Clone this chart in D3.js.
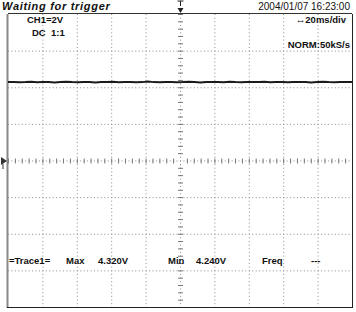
<!DOCTYPE html>
<html>
<head>
<meta charset="utf-8">
<script src="https://cdn.jsdelivr.net/npm/d3@7"></script>
<style>
  body { margin: 0; background: #fff; }
  svg { display: block; }
  text { font-family: "Liberation Sans", Arial, sans-serif; fill: #111; }
</style>
</head>
<body>
<svg id="scope"></svg>
<script>
// scope settings
const voltsPerDiv = 2;
const msPerDiv = 20;
const xDivs = [-5, -4, -3, -2, -1, 0, 1, 2, 3, 4, 5];
const yDivs = [-4, -3, -2, -1, 0, 1, 2, 3, 4];

// trace readings (V), left to right across the 200 ms window
const traceVolts = [
  4.28, 4.29, 4.27, 4.28, 4.30, 4.27, 4.28, 4.29, 4.26, 4.28,
  4.30, 4.28, 4.27, 4.29, 4.28, 4.26, 4.29, 4.28, 4.30, 4.27,
  4.28, 4.29, 4.27, 4.28, 4.31, 4.28, 4.27, 4.28, 4.29, 4.27,
  4.28, 4.30, 4.28, 4.26, 4.28, 4.29, 4.28, 4.27, 4.30, 4.28,
  4.27, 4.29, 4.28, 4.28, 4.30, 4.27, 4.28, 4.29, 4.27, 4.28,
  4.29, 4.28, 4.26, 4.28, 4.30, 4.28, 4.27, 4.29, 4.28, 4.28
];

// header / readout texts
const title = "Waiting for trigger";
const stamp = "2004/01/07  16:23:00";
const chLabel = "CH1=2V";
const coupling = "DC  1:1";
const timebase = "\u219420ms/div";
const sampling = "NORM:50kS/s";
const readout = ["=Trace1=", "Max", "4.320V", "Min", "4.240V", "Freq", "---"];

const W = 356, H = 312;
const margin = {top: 14, right: 4, bottom: 5, left: 8};

const svg = d3.select('#scope')
    .attr('width', W)
    .attr('height', H);

const x = d3.scaleLinear()
    .domain([-5 * msPerDiv, 5 * msPerDiv])
    .range([margin.left, W - margin.right]);

const y = d3.scaleLinear()
    .domain([-4 * voltsPerDiv, 4 * voltsPerDiv])
    .range([H - margin.bottom, margin.top]);

const grid = svg.append('g');

// dotted vertical division lines
grid.selectAll('.vline')
    .data(xDivs.filter(d => Math.abs(d) < 5))
  .join('line')
    .attr('x1', d => x(d * msPerDiv) + 0.5)
    .attr('x2', d => x(d * msPerDiv) + 0.5)
    .attr('y1', y.range()[1])
    .attr('y2', y.range()[0])
    .attr('stroke', '#8a8a8a')
    .attr('stroke-dasharray', '1,2.66');

// dotted horizontal division lines
grid.selectAll('.hline')
    .data(yDivs.filter(d => Math.abs(d) < 4))
  .join('line')
    .attr('x1', x.range()[0])
    .attr('x2', x.range()[1])
    .attr('y1', d => y(d * voltsPerDiv) + 0.5)
    .attr('y2', d => y(d * voltsPerDiv) + 0.5)
    .attr('stroke', '#8a8a8a')
    .attr('stroke-dasharray', '1,2.44');

// minor ticks on the centre axes (5 per division)
const xMinor = d3.range(-25, 26).map(i => i * msPerDiv / 5);
const yMinor = d3.range(-20, 21).map(i => i * voltsPerDiv / 5);

grid.selectAll('.xtick')
    .data(xMinor.filter(d => d !== 0))
  .join('line')
    .attr('x1', d => x(d) + 0.5)
    .attr('x2', d => x(d) + 0.5)
    .attr('y1', y(0) - 2)
    .attr('y2', y(0) + 3)
    .attr('stroke', '#777');

grid.selectAll('.ytick')
    .data(yMinor.filter(d => d !== 0))
  .join('line')
    .attr('x1', x(0) - 2)
    .attr('x2', x(0) + 3)
    .attr('y1', d => y(d) + 0.5)
    .attr('y2', d => y(d) + 0.5)
    .attr('stroke', '#777');

// frame
svg.append('line')
    .attr('x1', margin.left - 0.5).attr('x2', margin.left - 0.5)
    .attr('y1', margin.top).attr('y2', H - margin.bottom + 1)
    .attr('stroke', '#888').attr('stroke-width', 2);
svg.append('line')
    .attr('x1', margin.left).attr('x2', W - margin.right)
    .attr('y1', margin.top - 0.5).attr('y2', margin.top - 0.5)
    .attr('stroke', '#333');
svg.append('line')
    .attr('x1', W - margin.right + 0.5).attr('x2', W - margin.right + 0.5)
    .attr('y1', margin.top).attr('y2', H - margin.bottom + 1)
    .attr('stroke', '#222');
svg.append('line')
    .attr('x1', margin.left - 1).attr('x2', W - margin.right + 1)
    .attr('y1', H - margin.bottom + 0.5).attr('y2', H - margin.bottom + 0.5)
    .attr('stroke', '#222');

// the trace
const tScale = d3.scaleLinear()
    .domain([0, traceVolts.length - 1])
    .range(x.domain());

const line = d3.line()
    .x((d, i) => x(tScale(i)))
    .y(d => y(d));

svg.append('path')
    .datum(traceVolts)
    .attr('fill', 'none')
    .attr('stroke', '#1a1a1a')
    .attr('stroke-width', 2)
    .attr('d', line);

// trigger position marker (top) and ground marker (left)
const tx = x(0) + 0.5;
svg.append('path')
    .attr('d', `M${tx - 3},1 H${tx + 3} M${tx},1 V6`)
    .attr('stroke', '#222').attr('fill', 'none');
svg.append('path')
    .attr('d', `M${tx - 3},8 H${tx + 3} L${tx},13 Z`)
    .attr('fill', '#222');

const gy = y(0) + 0.5;
svg.append('path')
    .attr('d', `M1,${gy - 4} L7,${gy} L1,${gy + 4} Z`)
    .attr('fill', '#333');
svg.append('path')
    .attr('d', `M3,${gy + 3} V${gy + 8}`)
    .attr('stroke', '#333');

// header texts
svg.append('text')
    .attr('x', 2).attr('y', 10)
    .style('font-size', '11px')
    .style('font-weight', 'bold')
    .style('font-style', 'italic')
    .style('letter-spacing', '0.7px')
    .text(title);

svg.append('text')
    .attr('x', 350).attr('y', 10)
    .attr('text-anchor', 'end')
    .style('font-size', '10px')
    .text(stamp);

const inner = svg.append('g')
    .style('font-size', '9.5px')
    .style('font-weight', 'bold');

inner.append('text').attr('x', 27).attr('y', 23).text(chLabel);
inner.append('text').attr('x', 32).attr('y', 36).text(coupling).attr('xml:space', 'preserve');
inner.append('text').attr('x', 346).attr('y', 23).attr('text-anchor', 'end').text(timebase);
inner.append('text').attr('x', 350).attr('y', 48).attr('text-anchor', 'end').text(sampling);

// bottom readout line
const readX = [9, 66, 98, 168, 196, 262, 311];
inner.selectAll('.readout')
    .data(readout)
  .join('text')
    .attr('x', (d, i) => readX[i])
    .attr('y', 264)
    .text(d => d);
</script>
</body>
</html>
